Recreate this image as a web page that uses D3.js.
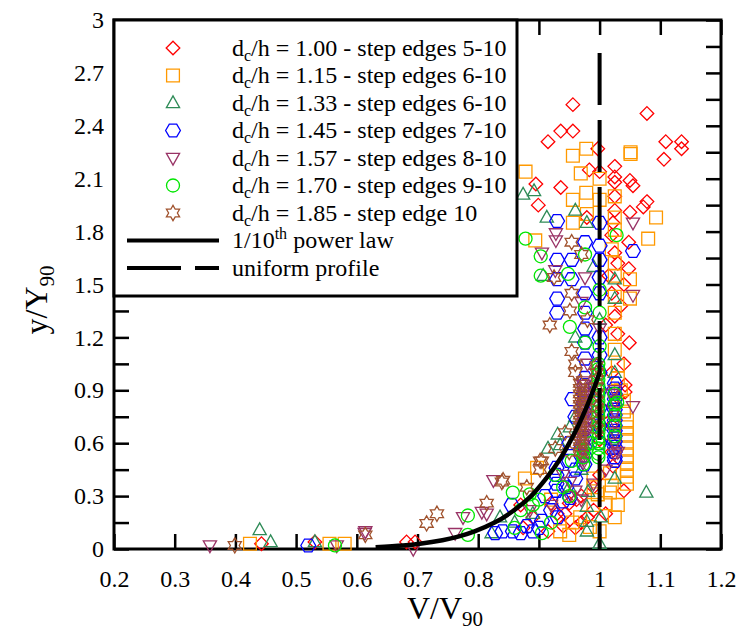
<!DOCTYPE html>
<html><head><meta charset="utf-8">
<script src="https://cdn.jsdelivr.net/npm/d3@7"></script>
<style>
body{margin:0;background:#fff}
svg{display:block}
text{font-family:"Liberation Serif","Times New Roman",serif;fill:#000}
</style>
</head><body>
<svg id="chart" width="740" height="632"></svg>
<script>
// ---------------- data ----------------
const xTicks = [0.2,0.3,0.4,0.5,0.6,0.7,0.8,0.9,1.0,1.1,1.2];
const xTickLabels = ["0.2","0.3","0.4","0.5","0.6","0.7","0.8","0.9","1","1.1","1.2"];
const yTicks = [0,0.15,0.3,0.45,0.6,0.75,0.9,1.05,1.2,1.35,1.5,1.65,1.8,1.95,2.1,2.25,2.4,2.55,2.7,2.85,3];
const yLabelTicks = [0,0.3,0.6,0.9,1.2,1.5,1.8,2.1,2.4,2.7,3];
const yTickLabels = ["0","0.3","0.6","0.9","1.2","1.5","1.8","2.1","2.4","2.7","3"];

const legendDc = ["1.00","1.15","1.33","1.45","1.57","1.70","1.85"];
const legendEdges = ["step edges 5-10","step edges 6-10","step edges 6-10","step edges 7-10","step edges 8-10","step edges 9-10","step edge 10"];

// [V/V90, y/Y90]
const dc100 = [[0.956,2.52],[1.078,2.47],[0.936,2.37],[0.956,2.37],[0.915,2.31],[1.109,2.31],[1.135,2.31],[1.135,2.27],[1.106,2.21],[0.997,2.27],[1.025,2.17],[0.983,2.15],[1.0,2.14],[1.025,2.11],[1.025,2.08],[1.05,2.09],[1.055,2.06],[0.895,2.07],[0.936,2.05],[1.025,2.0],[1.078,1.97],[1.072,1.94],[0.899,1.95],[1.025,1.92],[1.05,1.91],[0.979,1.88],[1.022,1.85],[1.048,1.74],[1.025,1.68],[1.048,1.59],[1.03,1.62],[1.02,1.78],[1.015,1.55],[1.04,1.5],[1.02,1.45],[1.035,1.38],[1.025,1.32],[1.01,1.27],[1.03,1.22],[1.049,1.17],[1.04,1.05],[1.02,1.0],[1.042,0.93],[1.042,0.89],[1.03,0.86],[1.01,0.78],[1.02,0.7],[1.0,0.62],[1.02,0.55],[1.022,0.47],[1.04,0.33],[1.0,0.42],[0.99,0.35],[0.97,0.3],[0.962,0.28],[0.95,0.26],[0.943,0.2],[0.93,0.2],[0.96,0.12],[0.99,0.22],[1.01,0.2],[0.98,0.18],[0.92,0.26],[0.89,0.18],[0.94,0.13],[0.97,0.15],[0.87,0.25],[0.874,0.12],[0.915,0.1],[0.443,0.03],[0.531,0.04],[0.682,0.04],[0.696,0.04]];
const dc115 = [[0.956,2.23],[0.978,2.27],[1.051,2.25],[1.051,2.24],[0.878,2.14],[0.969,2.13],[1.0,2.1],[0.956,1.98],[0.978,2.02],[1.025,2.0],[1.0,1.98],[1.093,1.88],[1.08,1.76],[0.894,1.75],[1.025,1.88],[1.025,1.81],[0.979,1.9],[0.956,1.85],[1.02,1.7],[1.025,1.62],[1.025,1.55],[1.05,1.53],[1.05,1.42],[1.025,1.43],[1.025,1.34],[1.025,1.22],[1.025,1.13],[1.03,1.04],[1.03,0.97],[1.035,0.9],[1.04,0.84],[1.04,0.78],[1.045,0.73],[1.045,0.69],[1.045,0.65],[1.045,0.61],[1.045,0.57],[1.045,0.53],[1.045,0.49],[1.045,0.45],[1.045,0.41],[1.045,0.37],[1.017,0.43],[1.02,0.36],[1.017,0.32],[0.99,0.4],[0.99,0.35],[0.997,0.31],[1.01,0.26],[1.03,0.25],[0.99,0.25],[0.92,0.28],[1.025,0.18],[0.968,0.18],[0.955,0.15],[0.984,0.125],[1.0,0.1],[0.95,0.08],[0.935,0.1],[0.877,0.4],[0.897,0.46],[0.424,0.03],[0.555,0.03],[0.58,0.03]];
const dc133 = [[0.874,2.01],[0.892,2.03],[0.913,1.88],[0.96,1.92],[0.979,1.85],[0.99,1.6],[0.907,1.55],[1.025,1.53],[1.025,1.42],[1.0,1.3],[0.96,1.2],[1.025,1.1],[1.025,1.0],[0.98,0.9],[0.97,0.8],[0.96,0.75],[1.0,0.7],[0.951,0.69],[0.931,0.65],[1.02,0.62],[0.935,0.59],[0.915,0.57],[0.97,0.45],[1.025,0.4],[0.95,0.35],[0.981,0.325],[1.077,0.32],[0.979,0.24],[0.89,0.2],[1.002,0.18],[0.836,0.18],[0.979,0.155],[0.86,0.15],[0.979,0.1],[0.822,0.09],[1.0,0.03],[0.44,0.108],[0.458,0.04],[0.531,0.04]];
const dc145 = [[0.93,1.86],[1.0,1.85],[0.976,1.74],[1.0,1.72],[1.055,1.69],[1.0,1.64],[0.93,1.64],[0.954,1.64],[0.93,1.53],[0.954,1.53],[1.0,1.54],[0.93,1.42],[1.0,1.45],[0.976,1.45],[0.93,1.34],[0.976,1.34],[0.976,1.25],[1.0,1.2],[0.976,1.17],[1.0,1.1],[0.976,1.08],[1.0,1.0],[0.976,0.97],[1.025,0.94],[1.025,0.91],[1.025,0.88],[1.025,0.85],[1.025,0.82],[1.025,0.79],[1.025,0.76],[1.025,0.73],[1.025,0.7],[1.025,0.67],[1.025,0.64],[1.025,0.61],[1.025,0.58],[1.025,0.55],[1.025,0.52],[1.025,0.5],[0.975,0.93],[0.975,0.88],[0.975,0.83],[0.975,0.78],[0.975,0.73],[0.975,0.68],[0.975,0.63],[0.975,0.58],[0.975,0.53],[0.975,0.48],[1.0,0.9],[1.0,0.8],[1.0,0.7],[1.0,0.6],[0.955,0.85],[0.96,0.75],[0.95,0.6],[0.95,0.5],[0.96,0.45],[0.929,0.46],[0.929,0.42],[0.96,0.4],[0.929,0.37],[0.945,0.35],[0.929,0.33],[0.951,0.29],[0.94,0.27],[0.91,0.3],[0.855,0.25],[0.92,0.22],[0.931,0.18],[0.905,0.16],[0.88,0.13],[0.9,0.12],[0.857,0.1],[0.89,0.1],[0.84,0.1],[0.87,0.09],[0.828,0.09],[0.52,0.02]];
const dc157 = [[1.055,1.85],[0.928,1.79],[0.928,1.75],[0.905,1.68],[0.927,1.58],[0.976,1.54],[1.055,1.44],[0.97,1.4],[1.0,1.25],[0.98,1.05],[0.973,0.95],[0.973,0.93],[0.973,0.91],[0.973,0.89],[0.973,0.87],[0.973,0.85],[0.973,0.83],[0.973,0.81],[0.973,0.79],[0.973,0.77],[0.973,0.75],[0.973,0.73],[0.973,0.71],[0.973,0.69],[0.973,0.67],[0.973,0.65],[0.973,0.63],[0.973,0.61],[0.973,0.59],[0.973,0.57],[0.973,0.55],[0.973,0.53],[0.973,0.51],[0.973,0.49],[1.025,0.9],[1.025,0.84],[1.025,0.78],[1.025,0.72],[1.025,0.66],[1.025,0.6],[1.025,0.54],[1.02,0.88],[1.055,0.81],[1.03,0.55],[1.01,0.45],[0.94,0.42],[0.825,0.39],[0.951,0.38],[0.99,0.37],[0.96,0.33],[0.95,0.3],[0.97,0.28],[0.92,0.25],[0.885,0.22],[0.806,0.21],[0.814,0.2],[0.775,0.18],[0.614,0.1],[0.762,0.09],[0.613,0.09],[0.358,0.02],[0.567,0.02],[0.693,0.0]];
const dc170 = [[0.878,1.76],[1.028,1.78],[0.976,1.67],[0.903,1.66],[0.948,1.56],[0.903,1.55],[1.0,1.47],[0.976,1.37],[1.0,1.34],[0.951,1.26],[0.976,1.17],[1.0,1.15],[0.998,1.05],[0.998,1.02],[0.998,0.99],[0.998,0.96],[0.998,0.93],[0.998,0.9],[0.998,0.87],[0.998,0.84],[0.998,0.81],[0.998,0.78],[0.998,0.75],[0.998,0.72],[0.998,0.69],[0.998,0.66],[0.998,0.63],[0.998,0.6],[0.998,0.57],[0.998,0.54],[0.998,0.52],[1.025,0.88],[1.025,0.82],[1.025,0.76],[1.025,0.7],[1.025,0.64],[1.029,0.83],[0.985,0.6],[0.973,0.56],[0.973,0.52],[0.973,0.48],[0.954,0.5],[0.926,0.42],[0.94,0.35],[0.95,0.3],[0.857,0.32],[0.885,0.31],[0.9,0.28],[0.89,0.25],[0.87,0.22],[0.92,0.15],[0.86,0.12],[0.783,0.19],[0.905,0.09],[0.783,0.08],[0.564,0.02]];
const dc185 = [[0.954,1.74],[0.97,1.67],[0.925,1.54],[0.954,1.45],[0.951,1.35],[0.98,1.3],[0.918,1.27],[0.954,1.12],[0.96,1.05],[0.96,1.0],[0.968,0.94],[0.968,0.91],[0.968,0.88],[0.968,0.85],[0.968,0.82],[0.968,0.79],[0.968,0.76],[0.968,0.73],[0.968,0.7],[0.968,0.67],[0.968,0.64],[0.968,0.61],[0.968,0.58],[0.968,0.55],[0.995,1.04],[0.995,1.0],[0.995,0.96],[0.995,0.92],[0.995,0.88],[0.995,0.84],[0.995,0.8],[0.995,0.76],[0.995,0.72],[0.995,0.68],[0.943,0.66],[0.927,0.57],[0.95,0.55],[0.902,0.5],[0.905,0.5],[0.902,0.45],[0.841,0.39],[0.839,0.38],[0.88,0.35],[0.814,0.26],[0.732,0.2],[0.715,0.145],[0.614,0.08],[0.399,0.02]];

// 1/10th power law  (V/V90 = (y/Y90)^(1/10))
const powerLaw = [[0.631,0.01],[0.676,0.02],[0.704,0.03],[0.741,0.05],[0.767,0.07],[0.794,0.1],[0.827,0.15],[0.851,0.2],[0.887,0.3],[0.912,0.4],[0.933,0.5],[0.950,0.6],[0.965,0.7],[0.978,0.8],[0.9895,0.9],[1.0,1.0]];
// uniform profile
const uniform = [[1.0,2.813],[1.0,0]];

// ---------------- chart ----------------
const svg = d3.select("#chart");
const L = 114, R = 721, T = 20, B = 549;
const x = d3.scaleLinear().domain([0.2,1.2]).range([L,R]);
const y = d3.scaleLinear().domain([0,3]).range([B,T]);

// custom symbols (size = radius^2)
const sym = {
  diamond:{draw(c,s){const r=Math.sqrt(s);c.moveTo(0,-r);c.lineTo(r,0);c.lineTo(0,r);c.lineTo(-r,0);c.closePath();}},
  square:{draw(c,s){const r=Math.sqrt(s);c.rect(-r,-r,2*r,2*r);}},
  triUp:{draw(c,s){const r=Math.sqrt(s);c.moveTo(0,-r*1.08);c.lineTo(r,r*0.7);c.lineTo(-r,r*0.7);c.closePath();}},
  hexagon:{draw(c,s){const r=Math.sqrt(s);const h=r*0.87;c.moveTo(-r,0);c.lineTo(-r/2,-h);c.lineTo(r/2,-h);c.lineTo(r,0);c.lineTo(r/2,h);c.lineTo(-r/2,h);c.closePath();}},
  triDown:{draw(c,s){const r=Math.sqrt(s);c.moveTo(0,r*1.08);c.lineTo(r,-r*0.7);c.lineTo(-r,-r*0.7);c.closePath();}},
  circle:{draw(c,s){const r=Math.sqrt(s);c.moveTo(r,0);c.arc(0,0,r,0,2*Math.PI);}},
  star6:{draw(c,s){const r=Math.sqrt(s);const ri=r/Math.sqrt(3);for(let k=0;k<12;k++){const a=-Math.PI/2+k*Math.PI/6;const rr=k%2?ri:r;const px=rr*Math.cos(a),py=rr*Math.sin(a);k?c.lineTo(px,py):c.moveTo(px,py);}c.closePath();}}
};

const series = [
  {data:dc100, type:sym.diamond, size:6.8*6.8, color:"#ff0000"},
  {data:dc115, type:sym.square,  size:6.4*6.4, color:"#ff9900"},
  {data:dc133, type:sym.triUp,   size:6.6*6.6, color:"#2e8b57"},
  {data:dc145, type:sym.hexagon, size:7.4*7.4, color:"#0000ff"},
  {data:dc157, type:sym.triDown, size:6.6*6.6, color:"#993366"},
  {data:dc170, type:sym.circle,  size:6.5*6.5, color:"#00e600"},
  {data:dc185, type:sym.star6,   size:7.6*7.6, color:"#a0522d"}
];

// axes (ticks inward)
function styleAxis(g){
  g.select(".domain").remove();
  g.selectAll(".tick line").attr("stroke","#000").attr("stroke-width",2.5);
  g.selectAll("text").attr("font-family","'Liberation Serif','Times New Roman',serif").attr("font-size",24).attr("fill","#000");
  g.attr("font-family",null).attr("font-size",null);
}
svg.append("g").attr("transform",`translate(0,${B})`)
  .call(d3.axisBottom(x).tickValues(xTicks).tickSize(-15).tickPadding(21).tickFormat((d,i)=>xTickLabels[i]))
  .call(styleAxis);
svg.append("g").attr("transform",`translate(0,${T})`)
  .call(d3.axisTop(x).tickValues(xTicks).tickSize(-15).tickFormat(""))
  .call(styleAxis);
svg.append("g").attr("transform",`translate(${L},0)`)
  .call(d3.axisLeft(y).tickValues(yTicks).tickSize(-15).tickFormat(""))
  .call(styleAxis);
svg.append("g").attr("transform",`translate(${L},0)`)
  .call(d3.axisLeft(y).tickValues(yLabelTicks).tickSize(0).tickPadding(10).tickFormat((d,i)=>yTickLabels[i]))
  .call(styleAxis);
svg.append("g").attr("transform",`translate(${R},0)`)
  .call(d3.axisRight(y).tickValues(yTicks).tickSize(-15).tickFormat(""))
  .call(styleAxis);

// frame
svg.append("rect").attr("x",L).attr("y",T).attr("width",R-L).attr("height",B-T)
  .attr("fill","none").attr("stroke","#000").attr("stroke-width",3);

// markers
series.forEach(s=>{
  svg.append("g").selectAll("path").data(s.data).join("path")
    .attr("transform",d=>`translate(${x(d[0])},${y(d[1])})`)
    .attr("d",d3.symbol(s.type,s.size))
    .attr("fill","none").attr("stroke",s.color).attr("stroke-width",1.3);
});

// lines
const line = d3.line().x(d=>x(d[0])).y(d=>y(d[1]));
svg.append("path").datum(uniform).attr("d",line)
  .attr("fill","none").attr("stroke","#000").attr("stroke-width",4).attr("stroke-dasharray","52,15");
svg.append("path").datum(powerLaw).attr("d",line.curve(d3.curveCatmullRom))
  .attr("fill","none").attr("stroke","#000").attr("stroke-width",4.5);

// axis titles
const xt = svg.append("text").attr("x",445).attr("y",619).attr("text-anchor","middle").attr("font-size",32);
xt.append("tspan").text("V/V");
xt.append("tspan").attr("font-size",21).attr("dy",7).text("90");
const yt = svg.append("text").attr("transform","translate(47,300) rotate(-90)").attr("text-anchor","middle").attr("font-size",32);
yt.append("tspan").text("y/Y");
yt.append("tspan").attr("font-size",21).attr("dy",7).text("90");

// legend
const lg = svg.append("g");
lg.append("rect").attr("x",L).attr("y",T).attr("width",403).attr("height",276)
  .attr("fill","#fff").attr("stroke","#000").attr("stroke-width",3);
const row0 = 48, rowH = 27.5, symX = 173, txtX = 232;
series.forEach((s,i)=>{
  const cy = row0 + i*rowH;
  lg.append("path").attr("transform",`translate(${symX},${cy})`)
    .attr("d",d3.symbol(s.type,s.size)).attr("fill","none").attr("stroke",s.color).attr("stroke-width",1.3);
  const t = lg.append("text").attr("x",txtX).attr("y",cy+7.5).attr("font-size",24);
  t.append("tspan").text("d");
  t.append("tspan").attr("font-size",16).attr("dy",5).text("c");
  t.append("tspan").attr("dy",-5).text(`/h = ${legendDc[i]} - ${legendEdges[i]}`);
});
{
  const cy = row0 + 7*rowH;
  lg.append("line").attr("x1",127).attr("x2",219).attr("y1",cy).attr("y2",cy).attr("stroke","#000").attr("stroke-width",4);
  const t = lg.append("text").attr("x",txtX).attr("y",cy+7.5).attr("font-size",24);
  t.append("tspan").text("1/10");
  t.append("tspan").attr("font-size",16).attr("dy",-9).text("th");
  t.append("tspan").attr("dy",9).text(" power law");
  const cy2 = row0 + 8*rowH;
  lg.append("line").attr("x1",127).attr("x2",219).attr("y1",cy2).attr("y2",cy2).attr("stroke","#000").attr("stroke-width",4).attr("stroke-dasharray","54,14");
  lg.append("text").attr("x",txtX).attr("y",cy2+7.5).attr("font-size",24).text("uniform profile");
}
</script>
</body></html>
